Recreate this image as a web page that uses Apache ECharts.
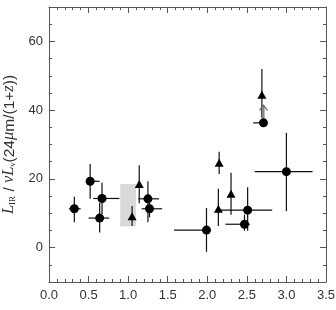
<!DOCTYPE html>
<html lang="en">
<head>
    <meta charset="UTF-8">
    <title>L_IR ratio vs z</title>
    <script src="https://cdn.jsdelivr.net/npm/echarts@6/dist/echarts.min.js"></script>
    <style type="text/css">
        body{
            margin: 0px;
            padding: 0px;
            background: #fff;
        }
        #chart{
            width: 336px;
            height: 310px;
        }
    </style>
</head>
<body>
<div id="chart"></div>
<script type="text/javascript">
    // circles: value and error bar ends
    var circleX   = [0.32, 0.52, 0.67, 0.64, 1.25, 1.27, 1.99, 2.51, 2.47, 2.71, 3.00];
    var circleY   = [11.3, 19.3, 14.3, 8.6, 14.2, 11.3, 5.1, 10.9, 6.8, 36.3, 22.1];
    var circleXLo = [0.25, 0.48, 0.56, 0.50, 1.13, 1.17, 1.58, 2.14, 2.23, 2.58, 2.60];
    var circleXHi = [0.40, 0.64, 0.89, 0.76, 1.39, 1.43, 2.00, 2.82, 2.54, 2.71, 3.33];
    var circleYLo = [7.4, 14.2, 9.8, 4.4, 7.4, 8.8, -1.2, 4.9, 4.9, 36.3, 10.6];
    var circleYHi = [14.8, 24.3, 18.9, 13.0, 19.3, 13.0, 11.5, 17.6, 9.6, 36.3, 33.4];
    // triangles (vertical errors only)
    var triX   = [1.05, 1.14, 2.14, 2.15, 2.30, 2.69];
    var triY   = [9.1, 18.5, 11.3, 24.7, 15.7, 44.5];
    var triYLo = [6.3, 12.9, 6.3, 21.4, 9.6, 37.8];
    var triYHi = [12.1, 24.0, 17.1, 27.9, 21.8, 52.0];
    // lower limit arrow: x, from, to
    var limitArrow = [[2.71, 36.3, 41.4]];
    // grey band
    var shadeX = [0.90, 1.10];
    var shadeY = [6.2, 18.5];
    // ticks
    var yTicks = [0, 20, 40, 60];

    var axisColor = '#555';
    var textColor = '#333';

    var circlePts = [], circleErr = [], triPts = [], triErr = [];
    for (var i = 0; i < circleX.length; i++) {
        circlePts.push([circleX[i], circleY[i]]);
        circleErr.push([circleX[i], circleY[i], circleXLo[i], circleXHi[i], circleYLo[i], circleYHi[i]]);
    }
    for (var j = 0; j < triX.length; j++) {
        triPts.push([triX[j], triY[j]]);
        triErr.push([triX[j], triY[j], triX[j], triX[j], triYLo[j], triYHi[j]]);
    }

    function renderErr(params, api) {
        var c = api.coord([api.value(0), api.value(1)]);
        var xl = api.coord([api.value(2), api.value(1)]);
        var xh = api.coord([api.value(3), api.value(1)]);
        var yl = api.coord([api.value(0), api.value(4)]);
        var yh = api.coord([api.value(0), api.value(5)]);
        var st = {stroke: '#111', lineWidth: 1.2};
        return {type: 'group', children: [
            {type: 'line', shape: {x1: xl[0], y1: c[1], x2: xh[0], y2: c[1]}, style: st},
            {type: 'line', shape: {x1: c[0], y1: yl[1], x2: c[0], y2: yh[1]}, style: st}
        ]};
    }

    function renderShade(params, api) {
        var p1 = api.coord([api.value(0), api.value(3)]);
        var p2 = api.coord([api.value(1), api.value(2)]);
        return {type: 'rect', shape: {x: p1[0], y: p1[1], width: p2[0] - p1[0], height: p2[1] - p1[1]},
            style: {fill: '#d9d9d9'}};
    }

    function renderArrow(params, api) {
        var a = api.coord([api.value(0), api.value(1)]);
        var b = api.coord([api.value(0), api.value(2)]);
        var st = {stroke: '#666', lineWidth: 1.2, fill: null};
        return {type: 'group', children: [
            {type: 'line', shape: {x1: a[0], y1: a[1], x2: b[0], y2: b[1]}, style: {stroke: '#888', lineWidth: 2.2}},
            {type: 'polyline', shape: {points: [[b[0] - 4, b[1] + 5], [b[0], b[1]], [b[0] + 4, b[1] + 5]]}, style: st}
        ]};
    }

    function xAxisOf(pos, labels) {
        return {
            type: 'value', position: pos, min: 0, max: 3.5, interval: 0.5,
            name: labels ? 'z' : '', nameLocation: 'middle', nameGap: 25,
            nameTextStyle: {fontFamily: 'Liberation Serif', fontStyle: 'italic', fontSize: 14, color: textColor},
            axisLine: {show: true, onZero: false, lineStyle: {color: axisColor, width: 1}},
            axisTick: {show: true, inside: true, length: 6, lineStyle: {color: axisColor}},
            minorTick: {show: true, splitNumber: 5, length: 3, lineStyle: {color: axisColor}},
            axisLabel: {show: labels, margin: 7, fontSize: 13, color: textColor, fontFamily: 'Liberation Sans',
                formatter: function (v) { return v.toFixed(1); }},
            splitLine: {show: false}
        };
    }

    var yName = '{i|L}{s|IR}{n| / }{i|νL}{s|ν}{n|(24}{i|μ}{n|m/(1+}{i|z}{n|))}';
    var rich = {
        i: {fontFamily: 'Liberation Serif', fontStyle: 'italic', fontSize: 16.5, lineHeight: 18, verticalAlign: 'bottom', color: textColor},
        n: {fontFamily: 'Liberation Sans', fontSize: 15.5, lineHeight: 18, verticalAlign: 'bottom', color: textColor},
        s: {fontFamily: 'Liberation Serif', fontSize: 9, lineHeight: 9, verticalAlign: 'bottom', color: textColor}
    };

    function yMajor(pos, labels) {
        return {
            type: 'value', position: pos, min: -10, max: 70,
            name: labels ? yName : '', nameLocation: 'middle', nameGap: 20,
            nameTextStyle: {rich: rich},
            axisLine: {show: true, onZero: false, lineStyle: {color: axisColor, width: 1}},
            axisTick: {show: true, inside: true, length: 6, customValues: yTicks, lineStyle: {color: axisColor}},
            axisLabel: {show: labels, margin: 6, fontSize: 13, color: textColor, fontFamily: 'Liberation Sans',
                customValues: yTicks},
            splitLine: {show: false}
        };
    }

    function yMinor(pos) {
        return {
            type: 'value', position: pos, min: -10, max: 70, interval: 5,
            axisLine: {show: false, onZero: false},
            axisTick: {show: true, inside: true, length: 3, lineStyle: {color: axisColor}},
            axisLabel: {show: false},
            splitLine: {show: false}
        };
    }

    var chart = echarts.init(document.getElementById('chart'));
    chart.setOption({
        backgroundColor: '#fff',
        animation: false,
        grid: {left: 49, right: 10, top: 7, bottom: 28, containLabel: false, outerBoundsMode: 'none'},
        xAxis: [xAxisOf('bottom', true), xAxisOf('top', false)],
        yAxis: [yMajor('left', true), yMinor('left'), yMajor('right', false), yMinor('right')],
        series: [
            {type: 'custom', renderItem: renderShade, data: [[shadeX[0], shadeX[1], shadeY[0], shadeY[1]]],
                encode: {x: [0, 1], y: [2, 3]}, z: 1, silent: true},
            {type: 'custom', renderItem: renderErr, data: circleErr, encode: {x: [0, 2, 3], y: [1, 4, 5]}, z: 2},
            {type: 'custom', renderItem: renderErr, data: triErr, encode: {x: [0, 2, 3], y: [1, 4, 5]}, z: 2},
            {type: 'custom', renderItem: renderArrow, data: limitArrow, encode: {x: 0, y: [1, 2]}, z: 2},
            {type: 'scatter', data: circlePts, symbol: 'circle', symbolSize: 9, itemStyle: {color: '#000', opacity: 1}, z: 3},
            {type: 'scatter', data: triPts, symbol: 'triangle', symbolSize: [9, 8], itemStyle: {color: '#000', opacity: 1}, z: 3}
        ]
    });
</script>
</body>
</html>
